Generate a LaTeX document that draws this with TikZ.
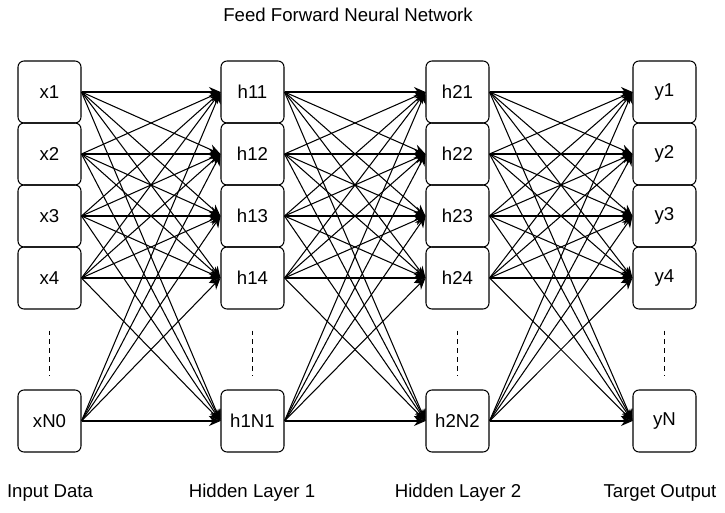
\documentclass[tikz,border=0pt]{standalone}
\usepackage{fontspec}
\setmainfont{Liberation Sans}
\usetikzlibrary{arrows.meta}

\begin{document}
\begin{tikzpicture}
            [x=0.02cm, y=-0.02cm, >={Stealth[length=2.3mm,width=2mm]}, semithick,
             font=\fontsize{10.6pt}{12pt}\selectfont,
             unit/.style={draw=black, rounded corners=0.12cm, minimum width=1.26cm, minimum height=1.24cm, inner sep=0pt},
             gap/.style={dash pattern=on 2.8pt off 2.3pt}]
            \useasboundingbox (0,0) rectangle (725,513);
            \node (title) at (348,15) {Feed Forward Neural Network};

            \node[unit] (x1) at (49.5,92) {x1};
            \node[unit] (x2) at (49.5,154) {x2};
            \node[unit] (x3) at (49.5,216) {x3};
            \node[unit] (x4) at (49.5,278) {x4};
            \node[unit] (x5) at (49.5,421) {xN0};

            \node[unit] (h11) at (252.5,92) {h11};
            \node[unit] (h12) at (252.5,154) {h12};
            \node[unit] (h13) at (252.5,216) {h13};
            \node[unit] (h14) at (252.5,278) {h14};
            \node[unit] (h15) at (252.5,421) {h1N1};

            \node[unit] (h21) at (457.5,92) {h21};
            \node[unit] (h22) at (457.5,154) {h22};
            \node[unit] (h23) at (457.5,216) {h23};
            \node[unit] (h24) at (457.5,278) {h24};
            \node[unit] (h25) at (457.5,421) {h2N2};

            \node[unit] (y1) at (664.5,92) {y1};
            \node[unit] (y2) at (664.5,154) {y2};
            \node[unit] (y3) at (664.5,216) {y3};
            \node[unit] (y4) at (664.5,278) {y4};
            \node[unit] (y5) at (664.5,421) {yN};

            \foreach \col in {x4,h14,h24,y4}
                \draw[gap] (\col.south) ++(0,21) -- ++(0,45);

            \foreach \s in {1,...,5}
                \foreach \t in {1,...,5} {
                    \path [->] (x\s.east) edge (h1\t.west);
                    \path [->] (h1\s.east) edge (h2\t.west);
                    \path [->] (h2\s.east) edge (y\t.west);
                }

            \node (inlabel) at (50,493) {Input Data};
            \node (h1label) at (252,493) {Hidden Layer 1};
            \node (h2label) at (458,493) {Hidden Layer 2};
            \node (outlabel) at (660,493) {Target Output};
        \end{tikzpicture}
\end{document}
